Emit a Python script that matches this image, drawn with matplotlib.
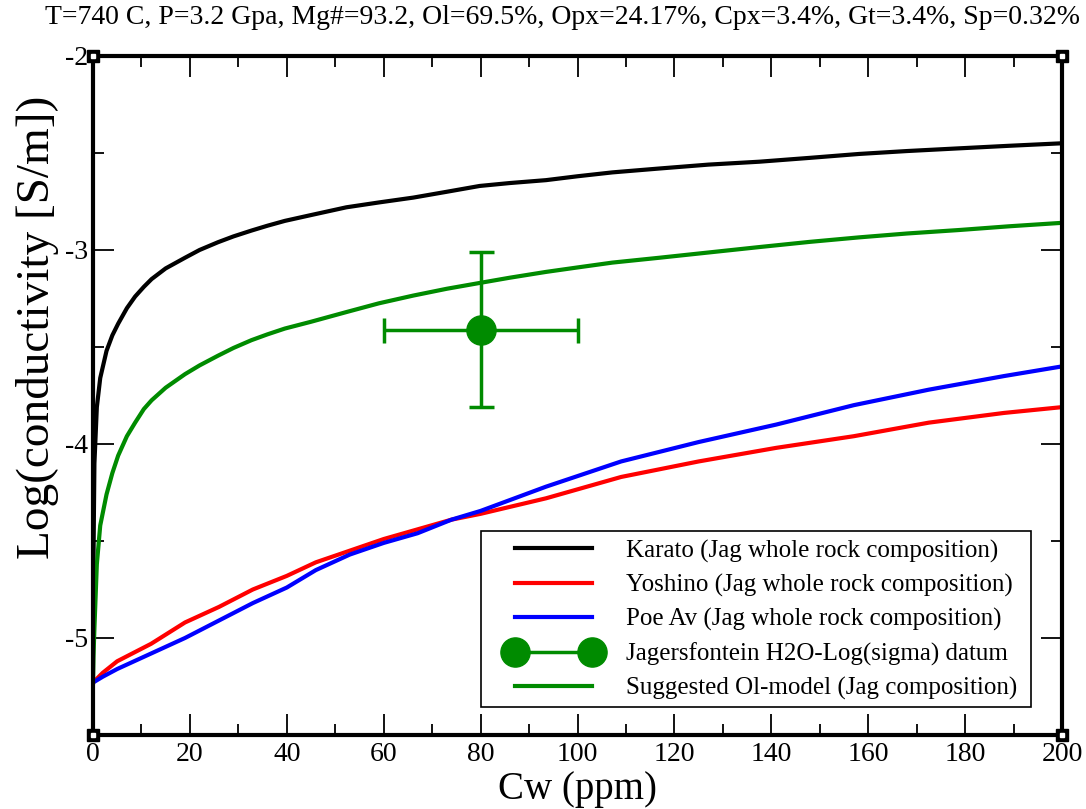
import matplotlib
matplotlib.use("Agg")
import matplotlib.pyplot as plt
from matplotlib.lines import Line2D
from matplotlib.patches import Rectangle
from matplotlib.ticker import MultipleLocator

plt.rcParams['font.family'] = ['Liberation Serif', 'DejaVu Serif']
plt.rcParams['axes.unicode_minus'] = False

# Cw (ppm) grid for the two steep curves
cw_steep = [0, 0.1, 0.3, 0.8, 1.5, 2.8, 4, 5.2, 7, 8.7, 10.5, 12.1, 15, 19,
            22, 25.8, 29, 32.7, 36, 39.6, 45, 52.3, 59, 66.1, 73, 79.8, 86,
            93.5, 100, 107.2, 116.9, 127, 137.5, 148, 158.1, 168, 178.8, 189,
            200]
karato = [-5.23, -4.6, -4.1, -3.81, -3.66, -3.52, -3.44, -3.38, -3.30, -3.24,
          -3.19, -3.15, -3.095, -3.04, -3.00, -2.96, -2.93, -2.90, -2.875,
          -2.85, -2.82, -2.78, -2.755, -2.73, -2.70, -2.67, -2.655, -2.64,
          -2.62, -2.60, -2.58, -2.56, -2.545, -2.525, -2.505, -2.49, -2.476,
          -2.463, -2.45]
ol_model = [-5.23, -5.1, -4.95, -4.62, -4.42, -4.26, -4.15, -4.06, -3.96,
            -3.89, -3.82, -3.775, -3.71, -3.64, -3.595, -3.545, -3.505,
            -3.465, -3.435, -3.405, -3.37, -3.32, -3.275, -3.235, -3.20,
            -3.17, -3.143, -3.113, -3.09, -3.065, -3.04, -3.013, -2.985,
            -2.958, -2.935, -2.915, -2.897, -2.878, -2.86]

# Cw grid for Yoshino / Poe
cw_rb = [0, 2, 5, 8.5, 12, 19, 26, 33, 40, 46, 53, 60, 67, 74, 80, 93.5, 109,
         125, 141, 157, 172.5, 188, 200]
yoshino = [-5.23, -5.18, -5.12, -5.075, -5.03, -4.92, -4.84, -4.75, -4.68,
           -4.61, -4.55, -4.49, -4.44, -4.39, -4.36, -4.28, -4.17, -4.09,
           -4.02, -3.96, -3.89, -3.84, -3.81]
poe = [-5.23, -5.20, -5.16, -5.12, -5.08, -5.00, -4.91, -4.82, -4.74, -4.65,
       -4.57, -4.51, -4.46, -4.39, -4.345, -4.22, -4.09, -3.99, -3.90, -3.80,
       -3.72, -3.65, -3.60]

# Jagersfontein datum
datum_cw = [80]
datum_sigma = [-3.41]
datum_cw_err = [20]
datum_sigma_err = [0.4]

labels = ["Karato (Jag whole rock composition)",
          "Yoshino (Jag whole rock composition)",
          "Poe Av (Jag whole rock composition)",
          "Jagersfontein H2O-Log(sigma) datum",
          "Suggested Ol-model (Jag composition)"]

title = ("T=740 C, P=3.2 Gpa, Mg#=93.2, Ol=69.5%, Opx=24.17%, Cpx=3.4%, "
         "Gt=3.4%, Sp=0.32%")

green = '#008b00'

fig = plt.figure(figsize=(10.86, 8.09), dpi=100)
ax = fig.add_axes([0.0856, 0.0915, 0.8924, 0.8393])

ax.plot(cw_steep, karato, color='black', lw=3, solid_joinstyle='round')
ax.plot(cw_rb, yoshino, color='#ff0000', lw=3)
ax.plot(cw_rb, poe, color='#0000ff', lw=3)
ax.plot(cw_steep, ol_model, color=green, lw=3)
ax.errorbar(datum_cw, datum_sigma, xerr=datum_cw_err, yerr=datum_sigma_err,
            fmt='o', color=green, ms=21, elinewidth=2.5, capsize=9,
            capthick=2.5)

ax.set_xlim(0, 200)
ax.set_ylim(-5.5, -2)
ax.xaxis.set_major_locator(MultipleLocator(20))
ax.xaxis.set_minor_locator(MultipleLocator(10))
ax.yaxis.set_major_locator(MultipleLocator(1))
ax.yaxis.set_minor_locator(MultipleLocator(0.5))
ax.tick_params(which='both', direction='in', top=True, right=True,
               width=1.3, labelsize=20)
ax.tick_params(which='major', length=15)
ax.tick_params(which='minor', length=8)
ax.tick_params(axis='x', pad=5)
for s in ax.spines.values():
    s.set_linewidth(3)

ax.set_xlabel("Cw (ppm)", fontsize=28, labelpad=3)
ax.set_ylabel("Log(conductivity [S/m])", fontsize=34)
ax.yaxis.set_label_coords(-0.035, 0.60)
fig.text(0.518, 0.978, title, ha='center', va='center', fontsize=20)

# corner squares
for cx, cy in [(0, 0), (1, 0), (0, 1), (1, 1)]:
    ax.plot([cx], [cy], marker='s', ms=8, color='black',
            transform=ax.transAxes, clip_on=False, zorder=5)
    ax.plot([cx], [cy], marker='s', ms=3, color='white',
            transform=ax.transAxes, clip_on=False, zorder=6)

# legend frame drawn separately (wider side padding than matplotlib gives)
ax.add_patch(Rectangle((0.4004, 0.0412), 0.5676, 0.2592,
                       transform=ax.transAxes, facecolor='white',
                       edgecolor='black', lw=1.2, zorder=7))

handles = [Line2D([], [], color='black', lw=3),
           Line2D([], [], color='#ff0000', lw=3),
           Line2D([], [], color='#0000ff', lw=3),
           Line2D([], [], color=green, lw=2.5, marker='o', ms=21),
           Line2D([], [], color=green, lw=3)]
leg = ax.legend(handles, labels, loc='upper left',
                bbox_to_anchor=(0.428, 0.288), borderaxespad=0,
                borderpad=0, fontsize=18, numpoints=2, handlelength=3.68,
                handletextpad=1.04, labelspacing=0.45, frameon=False)
leg.set_zorder(8)

fig.savefig("out.png", dpi=100)
